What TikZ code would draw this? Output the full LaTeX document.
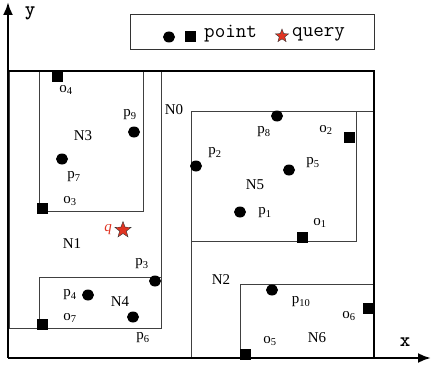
\documentclass[tikz,border=0pt]{standalone}
\usepackage{fontspec}
\setmainfont{Liberation Serif}
\usetikzlibrary{arrows.meta,shapes.geometric}
\definecolor{qred}{HTML}{E03422}
\tikzset{%
    >={Latex[length=13pt,width=10pt]},
    dot/.style={ellipse,fill=black,inner sep=0pt,minimum width=12pt,minimum height=11pt},
    box/.style={rectangle,fill=black,inner sep=0pt,minimum size=11pt},
    qstar/.style={star,star points=5,star point ratio=2.4,fill=qred,draw=black!80,line width=0.4pt,inner sep=0pt,minimum size=17pt},
    lab/.style={inner sep=0pt,font=\fontsize{15}{15}\selectfont},
    legtext/.style={anchor=west,inner sep=0pt,font=\ttfamily\fontsize{20.5}{20.5}\selectfont},
    axlab/.style={inner sep=0pt,font=\ttfamily\bfseries\fontsize{20}{20}\selectfont},
    region/.style={draw=black!75,line width=0.9pt}
}
\newcommand\Sub[2]{#1\textsubscript{#2}}
\newcommand\Region[4]{%
    \draw[region] (#1,#2) rectangle (#3,#4)
}

\begin{document}
\begin{tikzpicture}[x=1pt,y=-1pt]
      \useasboundingbox (0,0) rectangle (431,369);

      % legend
      \draw[line width=1pt,black!80] (130,15) rectangle (374,50);
      \node[dot] (legdot) at (169,37) {};
      \node[box] (legbox) at (190,37) {};
      \node[legtext] (legpt) at (204,34) {point};
      \node[qstar,minimum size=14pt] (legstar) at (282,36) {};
      \node[legtext] (legq) at (292,34) {query};

      % regions
      \Region{9}{71}{161}{328};
      \Region{39}{71}{143}{211};
      \Region{39}{277}{161}{328};
      \Region{191}{111}{374}{358};
      \Region{191}{111}{356}{241};
      \Region{240}{284}{374}{358};
      \draw[line width=2pt] (9,71) -- (374,71) -- (374,358);

      % axes
      \coordinate (orig) at (8,358);
      \coordinate (ytip) at (8,2);
      \coordinate (xtip) at (431,358);
      \draw[line width=2.4pt,->] (orig) -- (ytip);
      \draw[line width=2.4pt,->] (orig) -- (xtip);
      \node[axlab] (ylab) at (30,13) {y};
      \node[axlab] (xlab) at (405,342) {x};

      % data points
      \node[dot] (p1) at (240,212) {};
      \node[dot] (p2) at (196,166) {};
      \node[dot] (p3) at (155,281) {};
      \node[dot] (p4) at (88,295) {};
      \node[dot] (p5) at (289,170) {};
      \node[dot] (p6) at (133,317) {};
      \node[dot] (p7) at (62,159) {};
      \node[dot] (p8) at (277,116) {};
      \node[dot] (p9) at (134,132) {};
      \node[dot] (p10) at (272,290) {};

      % objects
      \node[box] (o1) at (302,237) {};
      \node[box] (o2) at (349,137) {};
      \node[box] (o3) at (42,208) {};
      \node[box] (o4) at (57,76) {};
      \node[box] (o5) at (245,354) {};
      \node[box] (o6) at (368,308) {};
      \node[box] (o7) at (42,324) {};

      % query
      \node[qstar] (q) at (123,230) {};
      \node[lab,text=qred,font=\itshape\fontsize{15}{15}\selectfont] (qlab) at (108,230) {q};

      % labels
      \node[lab] (p1lab) at (265,213) {\Sub{p}{1}};
      \node[lab] (p2lab) at (215,153) {\Sub{p}{2}};
      \node[lab] (p3lab) at (142,264) {\Sub{p}{3}};
      \node[lab] (p4lab) at (70,295) {\Sub{p}{4}};
      \node[lab] (p5lab) at (313,163) {\Sub{p}{5}};
      \node[lab] (p6lab) at (143,338) {\Sub{p}{6}};
      \node[lab] (p7lab) at (74,177) {\Sub{p}{7}};
      \node[lab] (p8lab) at (264,132) {\Sub{p}{8}};
      \node[lab] (p9lab) at (130,115) {\Sub{p}{9}};
      \node[lab] (p10lab) at (301,302) {\Sub{p}{10}};
      \node[lab] (o1lab) at (320,223) {\Sub{o}{1}};
      \node[lab] (o2lab) at (326,130) {\Sub{o}{2}};
      \node[lab] (o3lab) at (70,201) {\Sub{o}{3}};
      \node[lab] (o4lab) at (66,90) {\Sub{o}{4}};
      \node[lab] (o5lab) at (270,341) {\Sub{o}{5}};
      \node[lab] (o6lab) at (349,316) {\Sub{o}{6}};
      \node[lab] (o7lab) at (70,318) {\Sub{o}{7}};

      \node[lab] (N0) at (174,110) {N0};
      \node[lab] (N1) at (72,244) {N1};
      \node[lab] (N2) at (221,280) {N2};
      \node[lab] (N3) at (83,136) {N3};
      \node[lab] (N4) at (120,302) {N4};
      \node[lab] (N5) at (255,185) {N5};
      \node[lab] (N6) at (317,338) {N6};
    \end{tikzpicture}
\end{document}
